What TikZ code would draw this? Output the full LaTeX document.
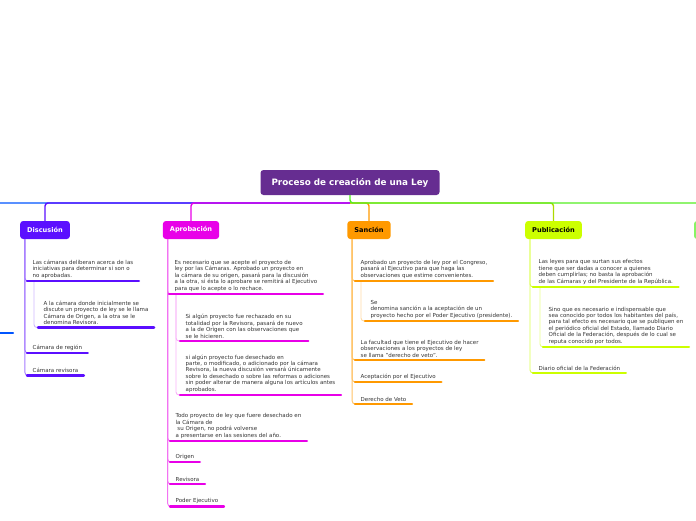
\documentclass[tikz,border=0pt]{standalone}
\usepackage{fontspec}
\setmainfont{DejaVu Sans}
\definecolor{rootc}{HTML}{662D91}
\definecolor{farc}{HTML}{0055FF}
\definecolor{discc}{HTML}{5B0FFF}
\definecolor{aprc}{HTML}{E800E8}
\definecolor{sanc}{HTML}{FF9900}
\definecolor{pubc}{HTML}{CCFF00}
\definecolor{grnc}{HTML}{55EE22}
\definecolor{txtc}{HTML}{333333}
\tikzset{
  rootbox/.style={fill=rootc, text=white, rounded corners=3pt, minimum width=179pt,
    minimum height=25pt, font=\fontsize{8.8}{10}\selectfont\bfseries},
  branchbox/.style={rounded corners=3pt, minimum height=18pt, inner xsep=7pt,
    font=\fontsize{6.6}{7.5}\selectfont\bfseries},
  leaf/.style={anchor=south west, align=left, inner xsep=5.5pt, inner ysep=2.6pt,
    text=txtc, font=\fontsize{5.5}{6.4}\selectfont},
  uline/.style={line width=2.4pt, line cap=round},
  link/.style={line width=0.9pt, rounded corners=3pt},
  buslink/.style={line width=1.4pt, rounded corners=3pt},
}
\begin{document}
\begin{tikzpicture}[x=1pt, y=-1pt]
  \useasboundingbox (0,0) rectangle (696,520);
  % main idea
  \node[rootbox] (root) at (350,182.5) {Proceso de creación de una Ley};
  \coordinate (bus) at (350,203);
  % branches
  \node[branchbox, fill=farc, minimum width=52pt] (far) at (-60,230) {};
  \node[branchbox, fill=discc, text=white] (disc) at (45,230) {Discusión};
  \node[branchbox, fill=aprc, text=white] (aprob) at (191,230) {Aprobación};
  \node[branchbox, fill=sanc, text=black] (sanc) at (369,230) {Sanción};
  \node[branchbox, fill=pubc, text=black] (publ) at (553.5,230) {Publicación};
  \node[branchbox, fill=grnc!70, minimum width=52pt] (fifth) at (720,230) {};
  \draw[buslink, farc] (bus) -| (far.north);
  \draw[buslink, discc] (bus) -| (disc.north);
  \draw[buslink, aprc] (bus) -| (aprob.north);
  \draw[buslink, sanc] (bus) -| (sanc.north);
  \draw[buslink, pubc!85!black] (bus) -| (publ.north);
  \draw[buslink, grnc] (root.south) -- (bus) -| (fifth.north);

  % Discusion
  \node[leaf] (d1) at (27,281) {Las cámaras deliberan acerca de las\\iniciativas para determinar si son o\\no aprobadas.};
  \node[leaf] (d11) at (38,327.5) {A la cámara donde inicialmente se\\discute un proyecto de ley se le llama\\Cámara de Origen, a la otra se le\\denomina Revisora.};
  \node[leaf] (d2) at (27,353) {Cámara de región};
  \node[leaf] (d3) at (27,375.5) {Cámara revisora};
  \foreach \n in {d1,d2,d3}
    \draw[link, discc!55] ([xshift=5pt]disc.south west) |- (\n.south west);
  \draw[link, discc!30] ([xshift=7pt]d1.south west) |- (d11.south west);
  \foreach \n in {d1,d11,d2,d3}
    \draw[uline, discc] (\n.south west) -- (\n.south east);

  % Aprobacion
  \node[leaf] (a1) at (169,294) {Es necesario que se acepte el proyecto de\\ley por las Cámaras. Aprobado un proyecto en\\la cámara de su origen, pasará para la discusión\\a la otra, si ésta lo aprobare se remitirá al Ejecutivo\\para que lo acepte o lo rechace.};
  \node[leaf] (a11) at (180,341) {Si algún proyecto fue rechazado en su\\totalidad por la Revisora, pasará de nuevo\\a la de Origen con las observaciones que\\se le hicieren.};
  \node[leaf] (a12) at (180,395) {si algún proyecto fue desechado en\\parte, o modificado, o adicionado por la cámara\\Revisora, la nueva discusión versará únicamente\\sobre lo desechado o sobre las reformas o adiciones\\sin poder alterar de manera alguna los artículos antes\\aprobados.};
  \node[leaf] (a2) at (170,441) {Todo proyecto de ley que fuere desechado en\\la Cámara de\\\ su Origen, no podrá volverse\\a presentarse en las sesiones del año.};
  \node[leaf] (a3) at (170,462) {Origen};
  \node[leaf] (a4) at (170,484) {Revisora};
  \node[leaf] (a5) at (170,506.5) {Poder Ejecutivo};
  \foreach \n in {a1,a2,a3,a4,a5}
    \draw[link, aprc!55] ([xshift=5pt]aprob.south west) |- (\n.south west);
  \foreach \n in {a11,a12}
    \draw[link, aprc!30] ([xshift=7pt]a1.south west) |- (\n.south west);
  \foreach \n in {a1,a11,a12,a2,a3,a4,a5}
    \draw[uline, aprc] (\n.south west) -- (\n.south east);

  % Sancion
  \node[leaf] (s1) at (355,281) {Aprobado un proyecto de ley por el Congreso,\\pasará al Ejecutivo para que haga las\\observaciones que estime convenientes.};
  \node[leaf] (s11) at (365,321) {Se\\denomina sanción a la aceptación de un\\proyecto hecho por el Poder Ejecutivo (presidente).};
  \node[leaf] (s2) at (355,360) {La facultad que tiene el Ejecutivo de hacer\\observaciones a los proyectos de ley\\se llama "derecho de veto".};
  \node[leaf] (s3) at (355,382) {Aceptación por el Ejecutivo};
  \node[leaf] (s4) at (355,404) {Derecho de Veto};
  \foreach \n in {s1,s2,s3,s4}
    \draw[link, sanc!60] ([xshift=5pt]sanc.south west) |- (\n.south west);
  \draw[link, sanc!35] ([xshift=6pt]s1.south west) |- (s11.south west);
  \foreach \n in {s1,s11,s2,s3,s4}
    \draw[uline, sanc] (\n.south west) -- (\n.south east);

  % Publicacion
  \node[leaf] (p1) at (533,287) {Las leyes para que surtan sus efectos\\tiene que ser dadas a conocer a quienes\\deben cumplirlas; no basta la aprobación\\de las Cámaras y del Presidente de la República.};
  \node[leaf] (p11) at (543,347) {Sino que es necesario e indispensable que\\sea conocido por todos los habitantes del país,\\para tal efecto es necesario que se publiquen en\\el periódico oficial del Estado, llamado Diario\\Oficial de la Federación, después de lo cual se\\reputa conocido por todos.};
  \node[leaf] (p2) at (533,373) {Diario oficial de la Federación};
  \foreach \n in {p1,p2}
    \draw[link, pubc!70] ([xshift=5pt]publ.south west) |- (\n.south west);
  \draw[link, pubc!45] ([xshift=7pt]p1.south west) |- (p11.south west);
  \foreach \n in {p1,p11,p2}
    \draw[uline, pubc] (\n.south west) -- (\n.south east);

  % cut-off branch on the left
  \coordinate (farend) at (13,333);
  \draw[uline, farc] ([xshift=-40pt]farend) -- (farend);
\end{tikzpicture}
\end{document}
